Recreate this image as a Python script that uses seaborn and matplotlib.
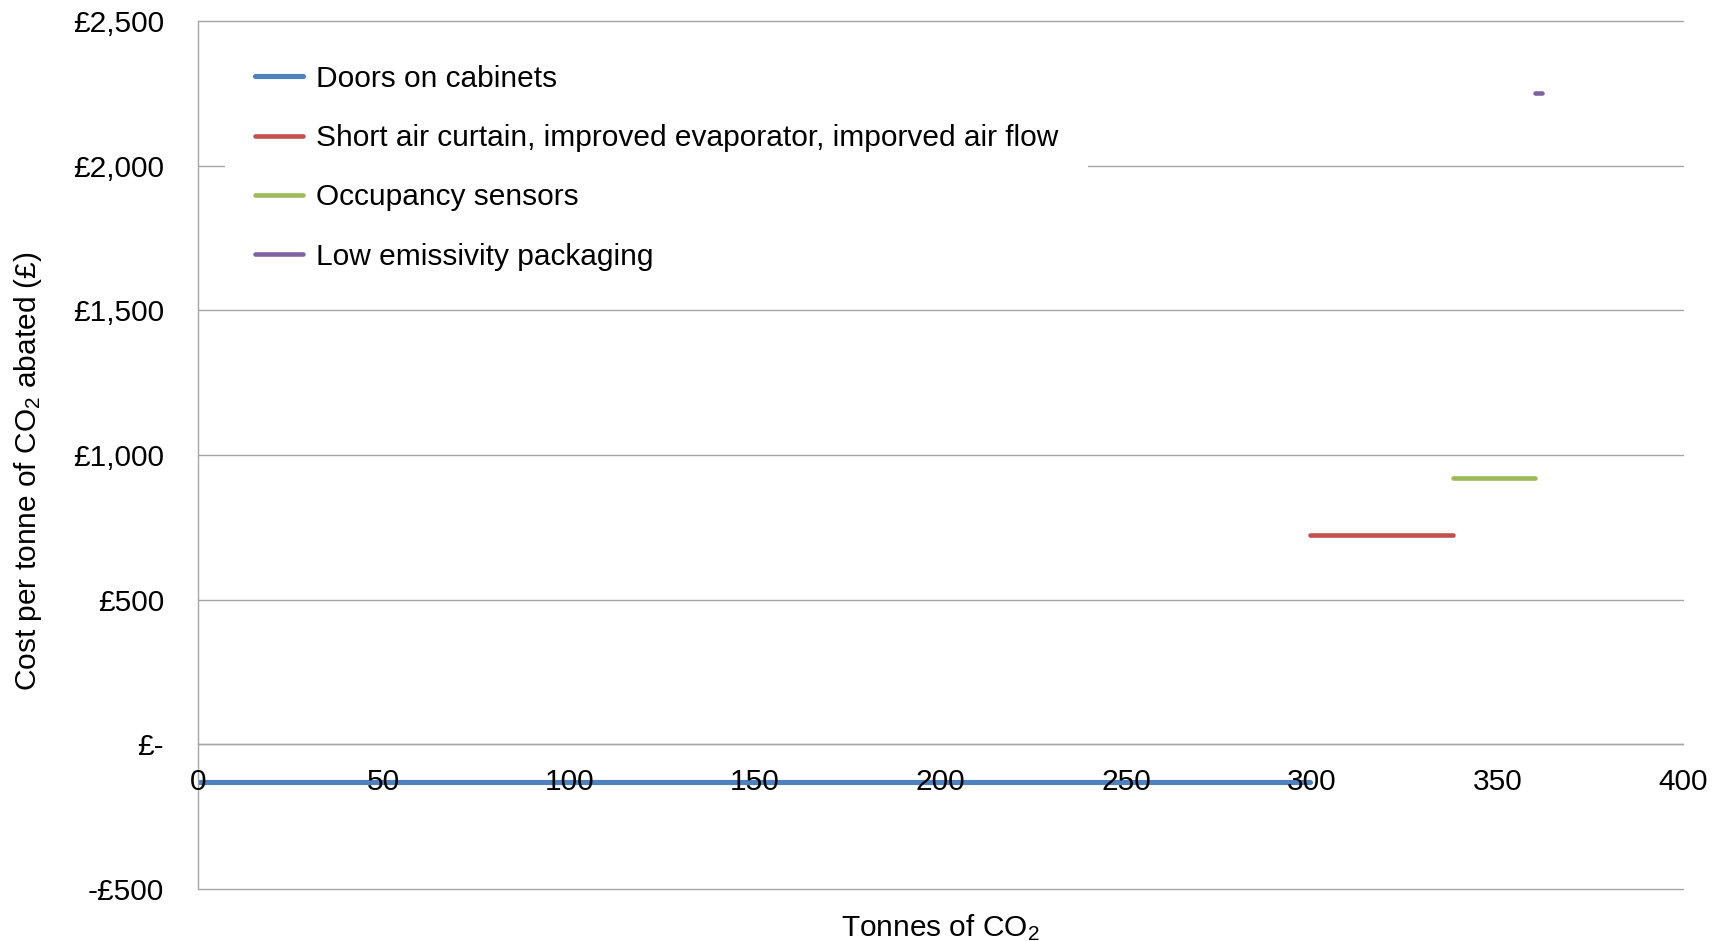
import matplotlib
matplotlib.use("Agg")
import matplotlib.pyplot as plt
import matplotlib.ticker as mticker
import seaborn as sns
import pandas as pd

# Abatement measures: cumulative tonnes range and cost per tonne
measures = [
    "Doors on cabinets",
    "Short air curtain, improved evaporator, imporved air flow",
    "Occupancy sensors",
    "Low emissivity packaging",
]
tonnes_start = [0, 299.5, 338, 360]
tonnes_end = [299.5, 338, 360, 362]
cost_per_tonne = [-129, 722, 919, 2252]
colors = ["#4F81BD", "#C0504D", "#9BBB59", "#8064A2"]
line_widths = [3.7, 3.3, 3.3, 3.3]

y_ticks = [-500, 0, 500, 1000, 1500, 2000, 2500]
y_tick_labels = ["-£500", "£-", "£500", "£1,000", "£1,500", "£2,000", "£2,500"]
x_ticks = [0, 50, 100, 150, 200, 250, 300, 350, 400]

rows = []
for m, s, e, c in zip(measures, tonnes_start, tonnes_end, cost_per_tonne):
    rows.append({"measure": m, "tonnes": s, "cost": c})
    rows.append({"measure": m, "tonnes": e, "cost": c})
df = pd.DataFrame(rows)

sns.set_theme(style="white")
plt.rcParams["font.family"] = ["Liberation Sans", "DejaVu Sans"]
plt.rcParams["mathtext.default"] = "regular"
plt.rcParams["text.color"] = "black"

FS = 21.5

fig = plt.figure(figsize=(17.23, 9.41), dpi=100)
ax = fig.add_axes([0.115, 0.0553, 0.8618, 0.9224])

sns.lineplot(
    data=df, x="tonnes", y="cost", hue="measure", hue_order=measures,
    palette=colors, estimator=None, sort=False, ax=ax,
    solid_capstyle="round", zorder=2,
)
for line, lw in zip(ax.get_lines(), line_widths):
    line.set_linewidth(lw)

ax.set_xlim(0, 400)
ax.set_ylim(-500, 2500)
ax.set_yticks(y_ticks)
ax.set_yticklabels(y_tick_labels)
ax.set_xticks(x_ticks)
ax.xaxis.set_major_formatter(mticker.FormatStrFormatter("%d"))

grid_color = "#A6A6A6"
ax.set_axisbelow(False)
ax.yaxis.grid(True, color=grid_color, linewidth=1.0)
ax.xaxis.grid(False)
for gl in ax.get_ygridlines():
    gl.set_clip_on(False)
for side in ["top", "right"]:
    ax.spines[side].set_visible(False)
ax.spines["bottom"].set_position(("data", 0))
for side in ["bottom", "left"]:
    ax.spines[side].set_color(grid_color)
    ax.spines[side].set_linewidth(1.0)

ax.tick_params(axis="x", which="major", direction="out", length=6, width=1.0,
               color=grid_color, pad=11, labelsize=FS, labelcolor="black")
ax.tick_params(axis="y", which="major", direction="out", length=6.5, width=1.0,
               color=grid_color, pad=18, labelsize=FS, labelcolor="black")

ax.set_ylabel("Cost per tonne of CO$_2$ abated (£)", fontsize=FS, color="black")
ax.yaxis.set_label_coords(-0.104, 0.481)
ax.set_xlabel("Tonnes of CO$_2$", fontsize=FS, color="black")
ax.xaxis.set_label_coords(0.5, -0.027)

leg = ax.legend(
    loc="upper left", bbox_to_anchor=(0.018, 0.984), borderaxespad=0,
    frameon=True, facecolor="white", edgecolor="white", framealpha=1.0,
    fontsize=FS, handlelength=1.6, handletextpad=0.45, labelspacing=1.05,
    borderpad=1.0, fancybox=False,
)
leg.get_frame().set_linewidth(0)
leg.set_zorder(5)
for hl, lw in zip(leg.get_lines(), line_widths):
    hl.set_linewidth(lw)

fig.savefig("out.png", dpi=100, facecolor="white")
